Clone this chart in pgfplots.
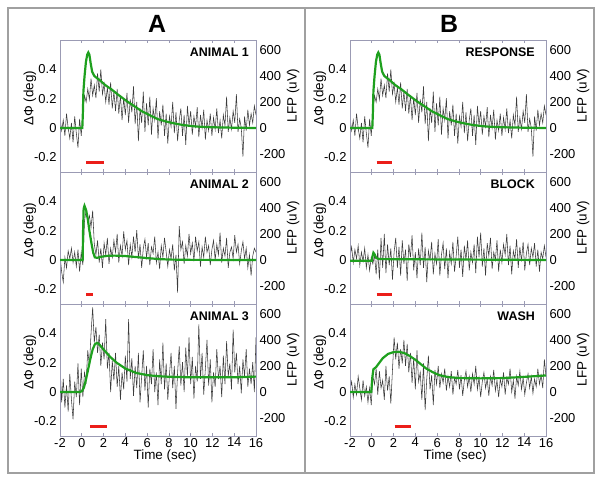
\documentclass[border=0pt]{standalone}
\usepackage{fontspec}
\setmainfont{Liberation Sans}
\usepackage{pgfplots}
\usepackage{pgfplotstable}
\pgfplotsset{compat=1.18}

\definecolor{axcol}{RGB}{155,155,180}
\definecolor{fitgreen}{RGB}{30,160,30}
\definecolor{stimred}{RGB}{235,30,25}
\definecolor{framegray}{RGB}{160,160,160}
\definecolor{tracegray}{RGB}{60,60,60}

% LFP traces (uV), b1 = a1
\pgfplotstableread{
t a1 a2 a3 b2 b3
-2 80 40 220 30 20
-1.85 -20 -90 -80 100 80
-1.7 60 -170 100 -20 -40
-1.55 -60 20 -120 80 60
-1.4 110 -60 50 10 -20
-1.25 0 70 -150 110 120
-1.1 -80 10 140 -40 30
-0.95 40 90 -60 60 -60
-0.8 -110 -20 -210 -10 90
-0.65 90 60 80 90 -30
-0.5 -40 -50 -40 -60 40
-0.35 -150 80 220 40 -80
-0.2 70 -90 -100 -80 30
-0.05 -60 60 180 20 -100
0.1 120 -40 -40 -30 120
0.25 250 300 150 40 60
0.4 200 380 80 -110 180
0.55 300 290 320 80 -20
0.7 220 340 200 -150 160
0.85 380 250 450 170 30
1 250 380 650 -60 90
1.15 330 120 380 200 -60
1.3 230 40 500 -100 200
1.45 420 150 300 120 10
1.6 280 -20 440 -40 120
1.75 450 90 200 90 -90
1.9 260 -60 380 -150 170
2.05 340 130 250 60 420
2.2 200 40 560 170 250
2.35 310 170 180 -60 380
2.5 180 -30 300 100 180
2.65 350 90 0 -120 330
2.8 150 20 240 150 220
2.95 280 150 90 -30 400
3.1 130 60 300 80 200
3.25 300 200 40 -160 370
3.4 110 -20 200 120 150
3.55 250 110 -60 20 300
3.7 60 30 150 190 70
3.85 230 220 20 -80 260
4 100 80 280 60 20
4.15 270 150 80 -140 320
4.3 40 -40 560 90 80
4.45 220 120 100 -40 150
4.6 120 20 260 210 -60
4.75 320 180 -30 -60 220
4.9 30 60 200 100 -140
5.05 200 230 30 -170 100
5.2 -100 10 300 70 280
5.35 150 120 -80 0 20
5.5 40 -60 120 140 130
5.65 280 90 320 -110 -100
5.8 -30 160 10 50 170
5.95 190 20 200 -30 60
6.1 20 130 -120 160 200
6.25 240 -40 180 -120 30
6.4 -50 100 60 40 140
6.55 150 50 330 130 70
6.7 60 180 0 -70 180
6.85 230 -20 150 90 10
7 -80 60 -100 -140 120
7.15 130 -70 250 60 40
7.3 20 110 60 -30 160
7.45 180 20 380 140 -20
7.6 -60 170 20 -90 110
7.75 110 60 220 30 60
7.9 -120 -50 -60 180 170
8.05 90 80 130 -60 20
8.2 10 10 300 80 130
8.35 200 120 30 -130 -30
8.5 -40 -80 200 110 90
8.65 120 40 -130 0 160
8.8 -100 -250 150 150 40
8.95 60 260 350 -80 120
9.1 150 80 50 60 0
9.25 -60 140 230 -20 140
9.4 100 -30 0 120 60
9.55 -130 110 340 -100 200
9.7 170 30 120 180 20
9.85 20 200 420 20 110
10 130 50 60 210 -40
10.15 -50 130 270 -50 80
10.3 90 -10 -50 90 150
10.45 10 180 200 -120 30
10.6 160 70 80 130 100
10.75 -70 140 520 30 -30
10.9 100 -50 100 170 120
11.05 0 100 300 -70 50
11.2 140 20 -20 60 170
11.35 -90 180 180 0 10
11.5 60 60 400 150 90
11.65 -20 110 50 -90 -40
11.8 110 -40 250 80 100
11.95 -60 80 -80 -20 40
12.1 80 150 150 120 150
12.25 -10 0 40 40 -20
12.4 150 120 330 200 110
12.55 -40 40 100 -40 60
12.7 60 210 200 110 180
12.85 -80 -20 -40 -110 0
13 100 90 280 70 90
13.15 20 30 60 10 -50
13.3 240 170 390 160 120
13.45 -30 -60 120 -60 50
13.6 80 60 220 100 160
13.75 -10 100 20 -10 20
13.9 130 10 480 140 110
14.05 40 190 150 -80 -20
14.2 260 60 300 50 70
14.35 -30 120 60 120 140
14.5 70 -30 200 -40 30
14.65 0 70 -10 90 120
14.8 -220 140 250 20 -10
14.95 90 10 120 130 100
15.1 -20 90 330 -50 40
15.25 140 -60 40 80 180
15.4 20 40 180 -90 60
15.55 110 -120 60 60 130
15.7 40 30 230 10 30
15.85 170 90 0 110 250
16 100 60 420 20 120
}\lfp

% green fits (deg)
\pgfplotstableread{
x y
-2 0
0.05 0
0.1 0.1
0.15 0.25
0.25 0.35
0.38 0.45
0.5 0.5
0.6 0.515
0.7 0.5
0.82 0.44
0.95 0.385
1.15 0.355
1.4 0.34
1.67 0.325
2.2 0.29
2.7 0.265
3.2 0.235
4 0.19
4.7 0.155
5.5 0.115
6.3 0.085
7 0.06
7.8 0.043
8.6 0.03
9.3 0.02
10.5 0.01
12 0.005
14 0.002
16 0
}\gAone

\pgfplotstableread{
x y
-2 0
0.08 0
0.12 0.2
0.17 0.35
0.25 0.37
0.4 0.34
0.55 0.28
0.7 0.2
0.9 0.11
1.05 0.05
1.2 0.018
1.4 0.015
1.8 0.022
2.3 0.028
3 0.03
4 0.027
5 0.02
6 0.013
7 0.007
8 0.003
10 0.001
16 0
}\gAtwo

\pgfplotstableread{
x y
-2 0
-0.2 0
0 0.005
0.2 0.03
0.4 0.09
0.6 0.16
0.8 0.23
1.0 0.29
1.2 0.325
1.4 0.335
1.6 0.325
2 0.29
2.6 0.24
3.2 0.2
4 0.16
5 0.13
6 0.115
7 0.108
8 0.104
10 0.1
12 0.1
14 0.1
16 0.105
}\gAthree

\pgfplotstableread{
x y
-2 -0.005
0 -0.005
0.05 0.02
0.15 0.05
0.25 0.04
0.4 0.015
0.6 0.008
1 0.006
16 0.0
}\gBtwo

\pgfplotstableread{
x y
-2 0
-0.05 0
0.05 0.1
0.15 0.155
0.4 0.17
0.7 0.2
1 0.23
1.5 0.26
2 0.272
2.5 0.274
3 0.265
3.5 0.245
4 0.22
4.5 0.19
5 0.16
5.6 0.135
6.2 0.115
7 0.102
8 0.095
10 0.093
12 0.095
14 0.103
16 0.113
}\gBthree

\pgfplotsset{
  panelbase/.style={scale only axis, width=196bp, height=132bp,
    anchor=south west, xmin=-2, xmax=16,
    axis line style={axcol, line width=0.8bp},
    tick style={axcol, line width=0.6bp}, major tick length=3bp,
    ticklabel style={font=\fontsize{13}{15}\selectfont}},
  rightax/.style={panelbase, axis y line*=right, axis x line=none,
    ymin=-338, ymax=676, ytick={-200,0,200,400,600},
    yticklabels={-200,0,200,400,600}, ytick style={draw=none},
    ylabel={LFP (uV)},
    every axis y label/.style={at={(rel axis cs:1.19,0.58)}, rotate=90,
      anchor=center, font=\fontsize{13.5}{15}\selectfont}},
  leftax/.style={panelbase, ymin=-0.3, ymax=0.6,
    ytick={-0.2,0,0.2,0.4}, yticklabels={-0.2,0,0.2,0.4},
    ytick pos=left, ytick style={draw=none},
    xtick={-2,0,...,16}, xtick pos=both, tick align=inside,
    xticklabels={},
    ylabel={ΔΦ (deg)},
    every axis y label/.style={at={(rel axis cs:-0.153,0.56)}, rotate=90,
      anchor=center, font=\fontsize{13.5}{15}\selectfont}},
  bottomrow/.style={xticklabels={-2,0,2,4,6,8,10,12,14,16},
    xticklabel style={yshift=1.5bp},
    xlabel={Time (sec)},
    every axis x label/.style={at={(rel axis cs:0.536,0)}, anchor=center,
      yshift=-20bp, font=\fontsize{13.5}{15}\selectfont}},
  trace/.style={tracegray, line width=0.55bp},
  fitline/.style={fitgreen, line width=2.2bp},
  stim/.style={stimred, line width=2.2bp},
}

% #1 x, #2 y, #3 lfp column, #4 fit table, #5 title, #6 stim start, #7 stim end, #8 extra options, #9 title xshift
\newcommand{\panel}[9]{%
  \begin{axis}[rightax, at={(#1,#2)}]
    \addplot[trace] table[x=t, y=#3] {\lfp};
  \end{axis}
  \begin{axis}[leftax, at={(#1,#2)}, #8]
    \addplot[fitline] table[x=x, y=y] {#4};
    \addplot[stim] coordinates {(#6,-0.235) (#7,-0.235)};
    \node[anchor=north east, inner sep=0pt, xshift=#9, yshift=-8bp,
      font=\bfseries\fontsize{12.5}{14}\selectfont] at (rel axis cs:1,1) {#5};
  \end{axis}}

\begin{document}
\begin{tikzpicture}
\useasboundingbox (0,0) rectangle (602bp,481bp);
\draw[framegray, line width=1.3bp] (8bp,8bp) rectangle (594bp,473bp);
\draw[framegray, line width=1.3bp] (305bp,8bp) -- (305bp,473bp);
\node[font=\bfseries\fontsize{25}{30}\selectfont] at (157bp,457bp) {A};
\node[font=\bfseries\fontsize{25}{30}\selectfont] at (449bp,457bp) {B};

\panel{60bp}{309bp}{a1}{\gAone}{ANIMAL 1}{0.4}{2.0}{}{-7bp}
\panel{60bp}{177bp}{a2}{\gAtwo}{ANIMAL 2}{0.4}{1.05}{}{-7bp}
\panel{60bp}{45bp}{a3}{\gAthree}{ANIMAL 3}{0.75}{2.35}{bottomrow}{-7bp}

\panel{350bp}{309bp}{a1}{\gAone}{RESPONSE}{0.45}{1.9}{}{-11bp}
\panel{350bp}{177bp}{b2}{\gBtwo}{BLOCK}{0.45}{1.9}{}{-11bp}
\panel{350bp}{45bp}{b3}{\gBthree}{WASH}{2.1}{3.6}{bottomrow}{-11bp}
\end{tikzpicture}
\end{document}
